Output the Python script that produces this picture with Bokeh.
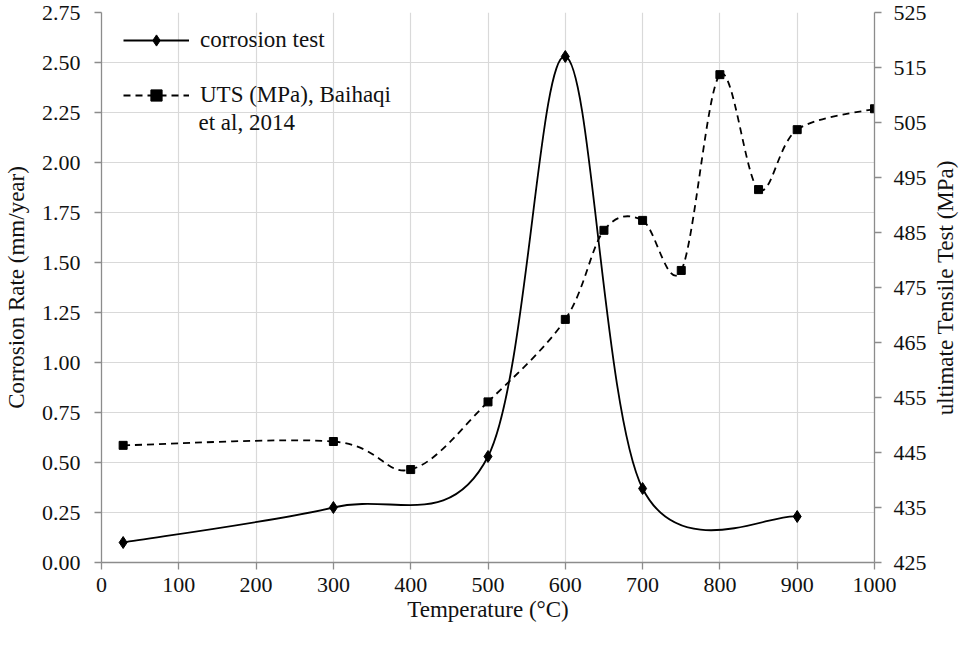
import numpy as np
from bokeh.plotting import figure
from bokeh.layouts import row
from bokeh.models import (Range1d, LinearAxis, FixedTicker, Legend, LegendItem,
                          Label, NumeralTickFormatter)
from bokeh.embed import file_html
from bokeh.resources import INLINE

# ---- data ----
temp_corr = [28, 300, 500, 600, 700, 900]
corrosion_rate = [0.10, 0.275, 0.53, 2.53, 0.37, 0.23]

temp_uts = [28, 300, 400, 500, 600, 650, 700, 750, 800, 850, 900, 1000]
uts_mpa = [446.3, 447.0, 441.9, 454.2, 469.2, 485.4, 487.2, 478.1, 513.7, 492.8, 503.7, 507.5]

x_ticks = [0, 100, 200, 300, 400, 500, 600, 700, 800, 900, 1000]
left_ticks = [0.0, 0.25, 0.5, 0.75, 1.0, 1.25, 1.5, 1.75, 2.0, 2.25, 2.5, 2.75]
right_ticks = [425, 435, 445, 455, 465, 475, 485, 495, 505, 515, 525]

FONT = "Liberation Serif"
AXIS_GREY = "#8c8c8c"
GRID_GREY = "#d9d9d9"
TEXT = "#111111"


def bezier_controls(xs, ys):
    """Catmull-Rom style control points for a smoothed line."""
    xs = np.asarray(xs, float)
    ys = np.asarray(ys, float)
    n = len(xs)
    out = {k: [] for k in ("x0", "y0", "x1", "y1", "cx0", "cy0", "cx1", "cy1")}
    for i in range(n - 1):
        a = max(i - 1, 0)
        d = min(i + 2, n - 1)
        out["x0"].append(xs[i]); out["y0"].append(ys[i])
        out["x1"].append(xs[i + 1]); out["y1"].append(ys[i + 1])
        out["cx0"].append(xs[i] + (xs[i + 1] - xs[a]) / 6.0)
        out["cy0"].append(ys[i] + (ys[i + 1] - ys[a]) / 6.0)
        out["cx1"].append(xs[i + 1] - (xs[d] - xs[i]) / 6.0)
        out["cy1"].append(ys[i + 1] - (ys[d] - ys[i]) / 6.0)
    return out


p = figure(width=929, height=630,
           x_range=Range1d(0, 1000), y_range=Range1d(0, 2.75),
           output_backend="svg", toolbar_location=None,
           min_border_left=97, min_border_right=53,
           min_border_top=12, min_border_bottom=68)
p.extra_y_ranges = {"uts": Range1d(425, 525)}
p.outline_line_color = None
p.background_fill_color = "white"
p.border_fill_color = "white"


def style_axis(ax):
    ax.axis_line_color = AXIS_GREY
    ax.axis_line_width = 1.3
    ax.major_tick_line_color = AXIS_GREY
    ax.major_tick_line_width = 1.3
    ax.major_tick_in = 0
    ax.major_tick_out = 7
    ax.minor_tick_line_color = None
    ax.major_label_text_font = FONT
    ax.major_label_text_font_size = "22px"
    ax.major_label_text_color = TEXT
    ax.axis_label_text_font = FONT
    ax.axis_label_text_font_size = "23px"
    ax.axis_label_text_font_style = "normal"
    ax.axis_label_text_color = TEXT


xax = p.xaxis[0]
xax.ticker = FixedTicker(ticks=x_ticks)
xax.axis_label = "Temperature (°C)"
style_axis(xax)
xax.major_label_standoff = 8
xax.axis_label_standoff = 2

yax = p.yaxis[0]
yax.ticker = FixedTicker(ticks=left_ticks)
yax.formatter = NumeralTickFormatter(format="0.00")
yax.axis_label = "Corrosion Rate (mm/year)"
style_axis(yax)
yax.major_label_standoff = 14
yax.axis_label_standoff = 10

rax = LinearAxis(y_range_name="uts", ticker=FixedTicker(ticks=right_ticks))
style_axis(rax)
rax.major_label_standoff = 12
p.add_layout(rax, "right")

p.xgrid.grid_line_color = GRID_GREY
p.xgrid.grid_line_width = 1.2
p.ygrid.grid_line_color = GRID_GREY
p.ygrid.grid_line_width = 1.2

# ---- series ----
cc = bezier_controls(temp_corr, corrosion_rate)
r_c_line = p.bezier(x0=cc["x0"], y0=cc["y0"], x1=cc["x1"], y1=cc["y1"],
                    cx0=cc["cx0"], cy0=cc["cy0"], cx1=cc["cx1"], cy1=cc["cy1"],
                    line_color="black", line_width=1.8)
r_c_pts = p.scatter(temp_corr, corrosion_rate, marker="diamond",
                    size=12, fill_color="black", line_color="black")

cu = bezier_controls(temp_uts, uts_mpa)
r_u_line = p.bezier(x0=cu["x0"], y0=cu["y0"], x1=cu["x1"], y1=cu["y1"],
                    cx0=cu["cx0"], cy0=cu["cy0"], cx1=cu["cx1"], cy1=cu["cy1"],
                    line_color="black", line_width=1.8, line_dash="7 5",
                    y_range_name="uts")
r_u_pts = p.scatter(temp_uts, uts_mpa, marker="square", size=8,
                    fill_color="black", line_color="black", y_range_name="uts")

# ---- legend ----
legend = Legend(items=[
    LegendItem(label="corrosion test", renderers=[r_c_line, r_c_pts]),
    LegendItem(label="UTS (MPa), Baihaqi", renderers=[r_u_line, r_u_pts]),
], location=(22, 453))
legend.padding = 0
legend.margin = 0
legend.spacing = 27
legend.label_height = 28
legend.glyph_height = 28
legend.glyph_width = 66
legend.label_standoff = 11
legend.label_text_font = FONT
legend.label_text_font_size = "23px"
legend.label_text_color = TEXT
legend.background_fill_alpha = 0
legend.border_line_color = None
p.add_layout(legend)

p.add_layout(Label(x=97, y=440, x_units="screen", y_units="screen",
                   text="et al, 2014", text_font=FONT, text_font_size="23px",
                   text_color=TEXT, text_baseline="middle"))

# ---- narrow companion figure carrying the secondary-axis title (reads bottom-to-top) ----
p2 = figure(width=30, height=630, x_range=Range1d(0, 1), y_range=Range1d(425, 525),
            output_backend="svg", toolbar_location=None,
            min_border_left=28, min_border_right=0,
            min_border_top=12, min_border_bottom=68)
p2.outline_line_color = None
p2.background_fill_color = "white"
p2.border_fill_color = "white"
p2.xaxis.visible = False
p2.xgrid.visible = False
p2.ygrid.visible = False
ax2 = p2.yaxis[0]
ax2.ticker = FixedTicker(ticks=[])
ax2.axis_line_color = None
ax2.major_tick_line_color = None
ax2.minor_tick_line_color = None
ax2.major_tick_in = 0
ax2.major_tick_out = 0
ax2.major_label_standoff = 0
ax2.axis_label_standoff = 0
ax2.axis_label = "ultimate Tensile Test (MPa)"
ax2.axis_label_text_font = FONT
ax2.axis_label_text_font_size = "23px"
ax2.axis_label_text_font_style = "normal"
ax2.axis_label_text_color = TEXT

layout = row(p, p2)
open("out.html", "w").write(file_html(layout, INLINE))
